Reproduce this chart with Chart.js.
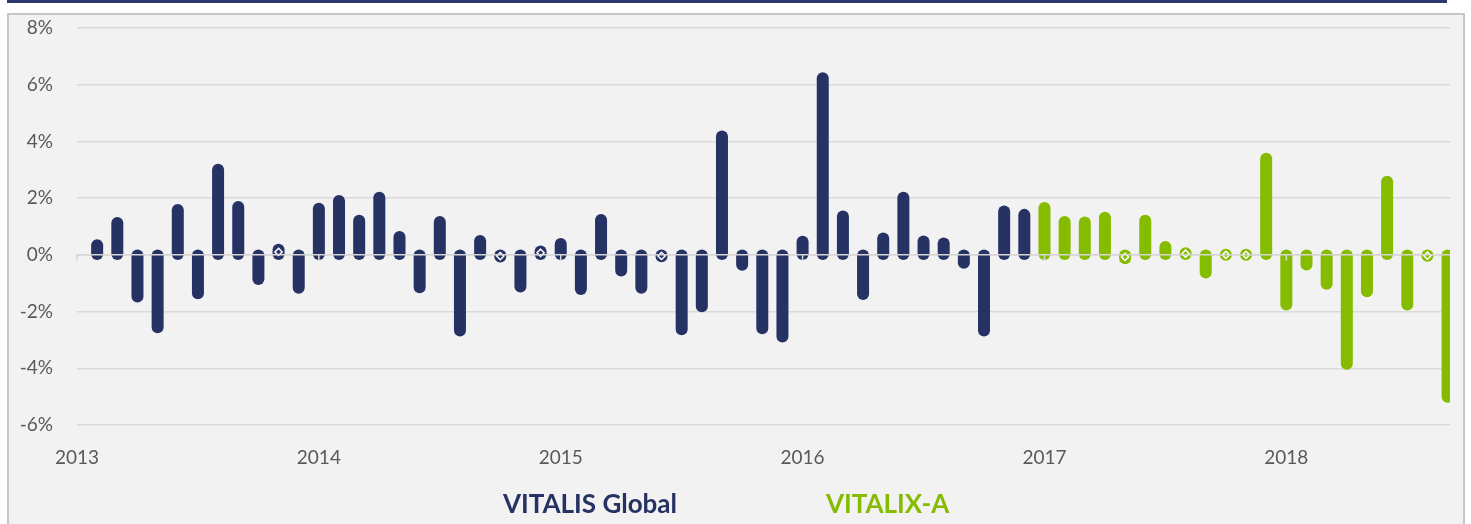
<!DOCTYPE html>
<html>
<head>
<meta charset="utf-8">
<script src="https://cdn.jsdelivr.net/npm/chart.js@4/dist/chart.umd.min.js"></script>
<style>
  html, body { margin: 0; padding: 0; background: #fff; overflow: hidden; }
  body { width: 1471px; height: 524px; position: relative; }
  .topline { position: absolute; left: 7px; top: 0; width: 1440px; height: 3px; background: #2b3a6c; }
  .frame {
    position: absolute; left: 7px; top: 13px; width: 1454px; height: 530px;
    border: 2px solid #c6c6c6; background: #f2f2f2;
  }
  .frame canvas { position: absolute; left: 0; top: 0; }
  .legend span {
    position: absolute; top: 472px;
    font: bold 26px Lato, sans-serif;
  }
</style>
</head>
<body>
<div class="topline"></div>
<div class="frame">
  <canvas id="perfChart" width="1454" height="509"></canvas>
  <div class="legend" id="legend"></div>
</div>
<script>
// monthly returns in %, plotted at month-end (tick "2013" = start of Jan 2013)
const globalStart = 1;   // first bar: end of Jan 2013
const globalReturns = [
  0.34, 1.12, -1.47, -2.55, 1.58, -1.35, 3.0, 1.69, -0.85, 0.18, -1.16,
  1.63, 1.90, 1.20, 2.01, 0.63, -1.14, 1.16, -2.67, 0.49, -0.06, -1.12, 0.12,
  0.38, -1.20, 1.23, -0.55, -1.16, -0.05, -2.62, -1.81, 4.17, -0.35, -2.59, -2.88, 0.46,
  6.23, 1.35, -1.38, 0.58, 2.01, 0.47, 0.40, -0.28, -2.67, 1.53, 1.41
];
const vitalixStart = 48; // end of Dec 2016
const vitalixReturns = [
  1.65, 1.16, 1.14, 1.31, -0.12, 1.20, 0.28, 0.06, -0.62, 0.0, 0.0, 3.39,
  -1.75, -0.34, -1.02, -3.84, -1.28, 2.58, -1.75, -0.03, -5.0
];
const yearLabels = ['2013', '2014', '2015', '2016', '2017', '2018'];
const seriesNames = ['VITALIS Global', 'VITALIX-A'];
const seriesColors = ['#253263', '#86bc00'];

function toPoints(start, values) {
  return values.map((v, i) => ({ x: start + i, y: v }));
}

// bars drawn as thick strokes with round caps, small values get a diamond marker
Chart.BarElement.prototype.draw = function (ctx) {
  const { x, y, base, width } = this.getProps(['x', 'y', 'base', 'width']);
  const opts = this.options;
  const end = Math.abs(y - base) < 0.01 ? base - 0.01 : y;
  ctx.save();
  ctx.lineCap = 'round';
  ctx.lineWidth = width;
  ctx.strokeStyle = opts.backgroundColor;
  ctx.beginPath();
  ctx.moveTo(x, base);
  ctx.lineTo(x, end);
  ctx.stroke();
  if (Math.abs(y - base) < 4.5) {
    const cy = (y + base) / 2;
    const r = 3.6;
    ctx.lineWidth = 1.5;
    ctx.lineCap = 'butt';
    ctx.strokeStyle = '#ffffff';
    ctx.beginPath();
    ctx.moveTo(x, cy - r);
    ctx.lineTo(x + r, cy);
    ctx.lineTo(x, cy + r);
    ctx.lineTo(x - r, cy);
    ctx.closePath();
    ctx.stroke();
  }
  ctx.restore();
};

// zero axis line and year tick marks sit on top of the bars
const zeroAxis = {
  id: 'zeroAxis',
  afterDatasetsDraw(chart) {
    const { ctx, chartArea, scales } = chart;
    const y0 = scales.y.getPixelForValue(0);
    ctx.save();
    ctx.strokeStyle = '#d6d6d6';
    ctx.lineWidth = 1.5;
    ctx.beginPath();
    ctx.moveTo(chartArea.left, y0);
    ctx.lineTo(chartArea.right, y0);
    scales.x.ticks.forEach(t => {
      const px = scales.x.getPixelForValue(t.value);
      ctx.moveTo(px, y0);
      ctx.lineTo(px, y0 + 6);
    });
    ctx.stroke();
    ctx.restore();
  }
};

const tickFont = { family: 'Lato, sans-serif', size: 19 };

const chart = new Chart(document.getElementById('perfChart'), {
  type: 'bar',
  data: {
    datasets: [
      {
        label: seriesNames[0],
        data: toPoints(globalStart, globalReturns),
        backgroundColor: seriesColors[0],
      },
      {
        label: seriesNames[1],
        data: toPoints(vitalixStart, vitalixReturns),
        backgroundColor: seriesColors[1],
      },
    ],
  },
  options: {
    responsive: false,
    animation: false,
    grouped: false,
    barThickness: 12,
    clip: 0,
    layout: { padding: { top: 13, right: 13, bottom: 0, left: 0 } },
    plugins: { legend: { display: false }, tooltip: { enabled: false } },
    scales: {
      x: {
        type: 'linear',
        offset: false,
        min: 0,
        max: 68.12,
        grid: { display: false },
        border: { display: false },
        ticks: {
          stepSize: 12,
          includeBounds: false,
          autoSkip: false,
          maxRotation: 0,
          padding: 13,
          color: '#595959',
          font: tickFont,
          callback: v => yearLabels[v / 12],
        },
        afterFit: s => { s.height = 99; },
      },
      y: {
        min: -6,
        max: 8,
        grid: { color: '#d9d9d9', lineWidth: 1.5, drawTicks: false },
        border: { display: false },
        ticks: {
          stepSize: 2,
          padding: 24,
          color: '#595959',
          font: tickFont,
          callback: v => v + '%',
        },
        afterFit: s => { s.width = 68; s.paddingTop = 0; s.paddingBottom = 0; },
      },
    },
  },
  plugins: [zeroAxis],
});

// legend: series names in their own colours, no swatches
const legendPos = [494, 817];
const legendBox = document.getElementById('legend');
chart.data.datasets.forEach((ds, i) => {
  const item = document.createElement('span');
  item.textContent = ds.label;
  item.style.color = ds.backgroundColor;
  item.style.left = legendPos[i] + 'px';
  legendBox.appendChild(item);
});
</script>
</body>
</html>
